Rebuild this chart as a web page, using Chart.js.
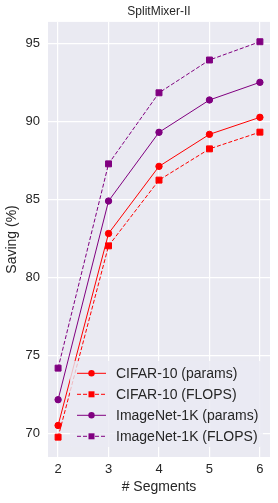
<!DOCTYPE html>
<html>
<head>
<meta charset="utf-8">
<script src="https://cdn.jsdelivr.net/npm/chart.js@4"></script>
<style>
html,body{margin:0;padding:0;background:#fff;}
canvas{display:block;}
</style>
</head>
<body>
<canvas id="c" width="278" height="503"></canvas>
<script>
const segments = [2, 3, 4, 5, 6];
const cifarParams = [70.53, 82.82, 87.12, 89.17, 90.26];
const cifarFlops = [69.78, 82.03, 86.24, 88.24, 89.31];
const imagenetParams = [72.18, 84.90, 89.30, 91.37, 92.50];
const imagenetFlops = [74.20, 87.28, 91.83, 93.93, 95.10];
const yTicks = [70, 75, 80, 85, 90, 95];
const seriesLabels = ['CIFAR-10 (params)', 'CIFAR-10 (FLOPS)', 'ImageNet-1K (params)', 'ImageNet-1K (FLOPS)'];

const FONT = '"Liberation Sans", Arial, sans-serif';
const TXT = '#262626';
const RED = '#ff0000';
const PURPLE = '#800080';

function mk(label, vals, color, dashed) {
  return {
    label: label,
    data: segments.map((s, i) => ({x: s, y: vals[i]})),
    borderColor: color,
    backgroundColor: color,
    borderWidth: 1,
    borderDash: dashed ? [4, 2] : [],
    pointStyle: dashed ? 'rect' : 'circle',
    pointRadius: dashed ? 4.2 : 3.2,
    pointBorderWidth: 1,
    pointBorderColor: color,
    pointBackgroundColor: color,
    tension: 0,
    fill: false
  };
}

const datasets = [
  mk(seriesLabels[0], cifarParams, RED, false),
  mk(seriesLabels[1], cifarFlops, RED, true),
  mk(seriesLabels[2], imagenetParams, PURPLE, false),
  mk(seriesLabels[3], imagenetFlops, PURPLE, true)
];

const bgPlugin = {
  id: 'plotBg',
  beforeDraw(chart) {
    const {ctx, chartArea: a} = chart;
    ctx.save();
    ctx.fillStyle = '#EAEAF2';
    ctx.fillRect(a.left, a.top, a.right - a.left, a.bottom - a.top);
    ctx.restore();
  }
};

const legendPlugin = {
  id: 'customLegend',
  afterDatasetsDraw(chart) {
    const ctx = chart.ctx;
    ctx.save();
    // legend box
    const bx = 70, by = 361, bw = 193, bh = 86, r = 3;
    ctx.fillStyle = 'rgba(234,234,242,0.8)';
    ctx.beginPath();
    ctx.moveTo(bx + r, by);
    ctx.arcTo(bx + bw, by, bx + bw, by + bh, r);
    ctx.arcTo(bx + bw, by + bh, bx, by + bh, r);
    ctx.arcTo(bx, by + bh, bx, by, r);
    ctx.arcTo(bx, by, bx + bw, by, r);
    ctx.closePath();
    ctx.fill();
    chart.data.datasets.forEach((ds, i) => {
      const y = 373.3 + i * 21;
      ctx.strokeStyle = ds.borderColor;
      ctx.lineWidth = 1;
      ctx.setLineDash(ds.borderDash);
      ctx.beginPath();
      ctx.moveTo(77, y);
      ctx.lineTo(106, y);
      ctx.stroke();
      ctx.setLineDash([]);
      ctx.fillStyle = ds.borderColor;
      if (ds.pointStyle === 'rect') {
        ctx.fillRect(91.5 - 3, y - 3, 6, 6);
      } else {
        ctx.beginPath();
        ctx.arc(91.5, y, 3.2, 0, Math.PI * 2);
        ctx.fill();
      }
      ctx.fillStyle = TXT;
      ctx.font = '14px ' + FONT;
      ctx.textBaseline = 'middle';
      ctx.textAlign = 'left';
      ctx.fillText(ds.label, 116, y + 0.5);
    });
    ctx.restore();
  }
};

new Chart(document.getElementById('c'), {
  type: 'line',
  data: {datasets: datasets},
  plugins: [bgPlugin, legendPlugin],
  options: {
    responsive: false,
    animation: false,
    devicePixelRatio: 1,
    layout: {padding: {left: 0, right: 8, top: 0, bottom: 0}},
    plugins: {
      legend: {display: false},
      tooltip: {enabled: false},
      title: {
        display: true,
        text: 'SplitMixer-II',
        fullSize: false,
        color: TXT,
        font: {family: FONT, size: 12, weight: 'normal', lineHeight: 1.2},
        padding: {top: 4.5, bottom: 3}
      }
    },
    scales: {
      x: {
        type: 'linear',
        min: 1.8,
        max: 6.2,
        afterBuildTicks(scale) { scale.ticks = segments.map(v => ({value: v})); },
        afterFit(scale) { scale.height = 46; },
        grid: {color: '#ffffff', lineWidth: 1.2, drawTicks: false},
        border: {display: false},
        ticks: {color: TXT, font: {family: FONT, size: 13}, padding: 5, maxRotation: 0},
        title: {display: true, text: '# Segments', color: TXT, font: {family: FONT, size: 14}, padding: {top: 2, bottom: 7}}
      },
      y: {
        type: 'linear',
        min: 68.51,
        max: 96.37,
        afterBuildTicks(scale) { scale.ticks = yTicks.map(v => ({value: v})); },
        afterFit(scale) { scale.width = 48; },
        grid: {color: '#ffffff', lineWidth: 1.2, drawTicks: false},
        border: {display: false},
        ticks: {color: TXT, font: {family: FONT, size: 13}, padding: 8},
        title: {display: true, text: 'Saving (%)', color: TXT, font: {family: FONT, size: 14}, padding: {top: 4, bottom: 2}}
      }
    }
  }
});
</script>
</body>
</html>
